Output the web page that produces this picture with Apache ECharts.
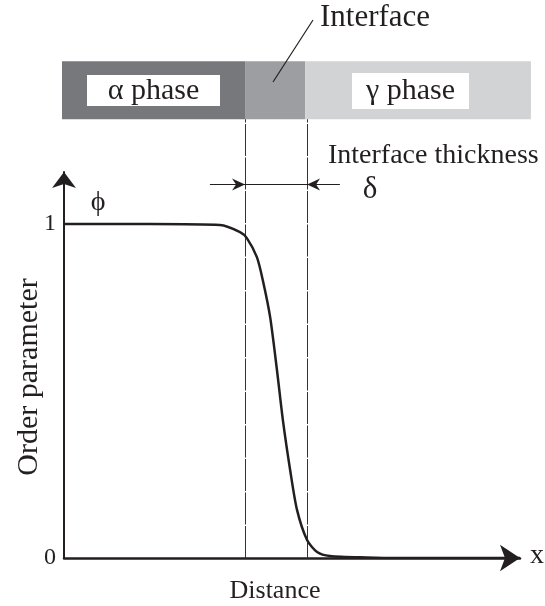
<!DOCTYPE html>
<html>
<head>
<meta charset="utf-8">
<script src="https://cdn.jsdelivr.net/npm/echarts@6/dist/echarts.min.js"></script>
<style>html,body{margin:0;padding:0;background:#fff}#c{width:545px;height:606px}</style>
</head>
<body>
<div id="c"></div>
<script>
// ---- data ----
const distance   = [0, 1.89, 3.42, 3.86, 4.01, 4.23, 4.36, 4.52, 4.67, 4.80, 4.96, 5.11, 5.33, 5.55, 5.83, 6.64, 7.37, 10];
const orderParam = [1, 1, 0.997, 0.976, 0.958, 0.901, 0.832, 0.722, 0.563, 0.413, 0.263, 0.144, 0.054, 0.018, 0.006, 0.0015, 0, 0];
const interfaceBounds = [3.97, 5.33];
const thicknessArrowSpan = [3.20, 6.05];
const phaseBounds = [-0.044, 3.97, 5.29, 10.24];
const phaseNames = ['α phase', 'Interface', 'γ phase'];
const yTickLabels = [0, 1];

const FONT = 'Liberation Serif';
const INK = '#231f20';
const phaseColors = ['#77787c', '#9d9ea2', '#d2d3d5'];
const BAR_Y0 = 1.314, BAR_Y1 = 1.488, ARROW_Y = 1.12;

const chart = echarts.init(document.getElementById('c'), null, {renderer: 'canvas'});

const option = {
  animation: false,
  backgroundColor: '#fff',
  grid: {left: 64, right: 25, top: 172, bottom: 48, containLabel: false, outerBoundsMode: 'none'},
  xAxis: {
    type: 'value', min: 0, max: 10,
    name: 'Distance', nameLocation: 'middle', nameGap: 20, nameMoveOverlap: false,
    nameTextStyle: {fontFamily: FONT, fontSize: 26, color: INK, verticalAlign: 'top', padding: [0, 34, 0, 0]},
    axisLine: {show: true, symbol: ['none', 'arrow'], symbolSize: [20, 20], lineStyle: {color: INK, width: 2.5}},
    axisTick: {show: false}, axisLabel: {show: false}, splitLine: {show: false}
  },
  yAxis: {
    type: 'value', min: 0, max: 1.156, interval: 1,
    name: 'Order parameter', nameLocation: 'middle', nameGap: 20, nameRotate: 90, nameMoveOverlap: false,
    nameTextStyle: {fontFamily: FONT, fontSize: 30, color: INK, padding: [0, 24, 0, 0]},
    axisLine: {show: true, symbol: ['none', 'arrow'], symbolSize: [18, 16], lineStyle: {color: INK, width: 2}},
    axisTick: {show: false}, splitLine: {show: false},
    axisLabel: {
      margin: 8, fontFamily: FONT, fontSize: 24, color: INK,
      formatter: v => (yTickLabels.indexOf(v) >= 0 ? String(v) : '')
    }
  },
  series: [
    {
      type: 'custom', name: 'phases', clip: false, z: 1,
      data: phaseNames.map((n, i) => [phaseBounds[i], phaseBounds[i + 1], i]),
      renderItem: (params, api) => {
        const p0 = api.coord([api.value(0), BAR_Y1]);
        const p1 = api.coord([api.value(1), BAR_Y0]);
        return {type: 'rect', shape: {x: p0[0], y: p0[1], width: p1[0] - p0[0], height: p1[1] - p0[1]},
                style: {fill: phaseColors[api.value(2)]}};
      }
    },
    {
      type: 'custom', name: 'interface lines', clip: false, z: 2,
      data: interfaceBounds.map(v => [v]),
      renderItem: (params, api) => {
        const a = api.coord([api.value(0), 0]);
        const b = api.coord([api.value(0), BAR_Y0]);
        return {type: 'line', shape: {x1: Math.round(a[0]) + 0.5, y1: a[1], x2: Math.round(b[0]) + 0.5, y2: b[1]},
                style: {stroke: '#333', lineWidth: 1, lineDash: [32, 1.5]}};
      }
    },
    {
      type: 'custom', name: 'thickness', clip: false, z: 3,
      data: [[thicknessArrowSpan[0], thicknessArrowSpan[1], interfaceBounds[0], interfaceBounds[1]]],
      renderItem: (params, api) => {
        const s = api.coord([api.value(0), ARROW_Y]);
        const e = api.coord([api.value(1), ARROW_Y]);
        const l = api.coord([api.value(2), ARROW_Y]);
        const r = api.coord([api.value(3), ARROW_Y]);
        const y = Math.round(s[1]) + 0.5;
        const head = (x, dir) => ({type: 'polygon', shape: {points: [
          [x, y], [x - dir * 13, y - 6], [x - dir * 9, y], [x - dir * 13, y + 6]]},
          style: {fill: INK}});
        return {type: 'group', children: [
          {type: 'line', shape: {x1: s[0], y1: y, x2: e[0], y2: y}, style: {stroke: INK, lineWidth: 1.2}},
          head(l[0], 1), head(r[0], -1)
        ]};
      }
    },
    {
      type: 'line', name: 'phi', data: distance.map((d, i) => [d, orderParam[i]]),
      showSymbol: false, smooth: 0.25, z: 4,
      lineStyle: {color: INK, width: 2.5}
    }
  ],
  graphic: [
    {type: 'rect', shape: {x: 87, y: 75, width: 133, height: 31}, style: {fill: '#fff'}, z: 10},
    {type: 'text', x: 153.5, y: 91, style: {text: 'α phase', fontFamily: FONT, fontSize: 30, fill: INK, align: 'center', verticalAlign: 'middle'}, z: 11},
    {type: 'rect', shape: {x: 352, y: 73, width: 117, height: 36}, style: {fill: '#fff'}, z: 10},
    {type: 'text', x: 410.5, y: 91, style: {text: 'γ phase', fontFamily: FONT, fontSize: 30, fill: INK, align: 'center', verticalAlign: 'middle'}, z: 11},
    {type: 'line', shape: {x1: 273, y1: 82, x2: 313, y2: 20}, style: {stroke: INK, lineWidth: 1.2}, z: 11},
    {type: 'text', x: 320, y: 18, style: {text: 'Interface', fontFamily: FONT, fontSize: 31, fill: INK, align: 'left', verticalAlign: 'middle'}, z: 11},
    {type: 'text', x: 328, y: 156, style: {text: 'Interface thickness', fontFamily: FONT, fontSize: 28, fill: INK, align: 'left', verticalAlign: 'middle'}, z: 11},
    {type: 'text', x: 370, y: 190, style: {text: 'δ', fontFamily: FONT, fontSize: 31, fill: INK, align: 'center', verticalAlign: 'middle'}, z: 11},
    {type: 'text', x: 98, y: 203, style: {text: 'ϕ', fontFamily: FONT, fontSize: 28, fill: INK, align: 'center', verticalAlign: 'middle'}, z: 11},
    {type: 'text', x: 537, y: 556, style: {text: 'x', fontFamily: FONT, fontSize: 28, fill: INK, align: 'center', verticalAlign: 'middle'}, z: 11}
  ]
};
chart.setOption(option);
</script>
</body>
</html>
